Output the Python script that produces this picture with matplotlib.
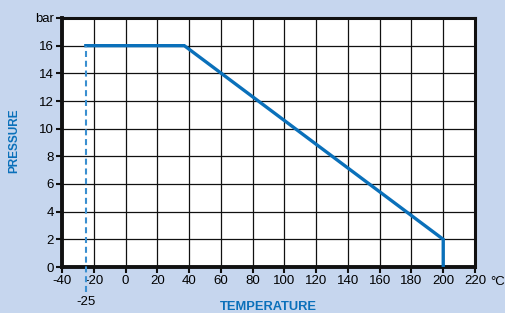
import matplotlib.pyplot as plt

plt.rcParams['font.family'] = ['Liberation Sans', 'DejaVu Sans']
plt.rcParams['axes.unicode_minus'] = False

# pressure / temperature curve
temp = [-25, 37, 200, 200]
pressure = [16, 16, 2, 0]
min_temp = -25
xticks = list(range(-40, 221, 20))
yticks = list(range(0, 17, 2))

bg = '#c6d6ee'
blue = '#0a70ba'

fig = plt.figure(figsize=(5.06, 3.13), dpi=100, facecolor=bg)
ax = fig.add_axes([62 / 506, 1 - 267 / 313, 413 / 506, 249 / 313])

ax.set_xlim(-40, 220)
ax.set_ylim(0, 18)
ax.set_xticks(xticks)
ax.set_yticks(yticks + [18])
ax.set_yticklabels([str(v) for v in yticks] + ['bar'])
ax.grid(True, color='#111111', lw=0.9)
ax.set_axisbelow(True)
for s in ax.spines.values():
    s.set_linewidth(2.2)
    s.set_color('#111111')
ax.spines['left'].set_linewidth(2.8)
ax.spines['bottom'].set_linewidth(2.8)
ax.tick_params(axis='both', length=4, width=1.5, labelsize=9.5, pad=2, color='#111111')

ax.plot(temp, pressure, color=blue, lw=2.4, solid_joinstyle='miter', zorder=3)
ax.plot([min_temp, min_temp], [-1.8, 16], color='#3a8fd0', lw=1.5,
        ls=(0, (2.9, 1.8)), clip_on=False, zorder=3)

ax.text(min_temp, -2.5, '-25', ha='center', va='center', fontsize=9.5)
ax.text(234.5, -1.1, '°C', ha='center', va='center', fontsize=9.5)
fig.text(14 / 506, 1 - 141 / 313, 'PRESSURE', rotation=90, ha='center', va='center',
         color=blue, fontsize=8.5, fontweight='bold')
fig.text(268 / 506, 1 - 306.5 / 313, 'TEMPERATURE', ha='center', va='center',
         color=blue, fontsize=9.3, fontweight='bold')

fig.savefig('out.png', dpi=100, facecolor=bg)
